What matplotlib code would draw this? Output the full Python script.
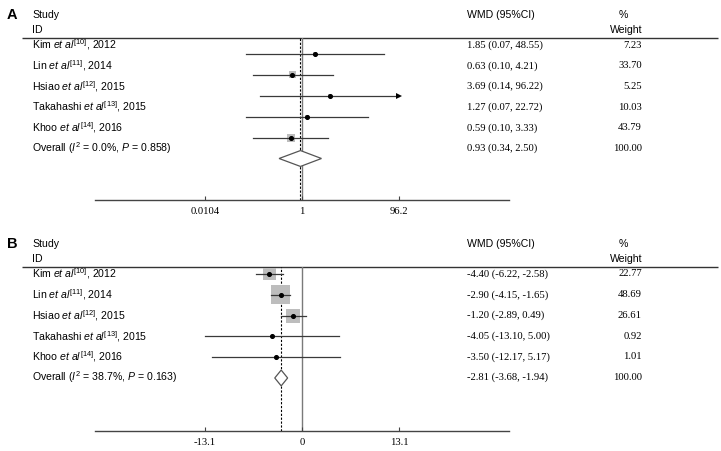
"""
Forest plots (two panels) of five studies with pooled estimate.
"""
# Libraries
import numpy as np
import matplotlib
matplotlib.use('Agg')
import matplotlib.pyplot as plt
from matplotlib.patches import Polygon

# Fonts
plt.rcParams['font.family'] = ['Liberation Sans', 'DejaVu Sans']
plt.rcParams['mathtext.fontset'] = 'custom'
plt.rcParams['mathtext.rm'] = 'Liberation Sans'
plt.rcParams['mathtext.it'] = 'Liberation Sans:italic'
plt.rcParams['mathtext.bf'] = 'Liberation Sans:bold'

# ----------------------------
# Data
# ----------------------------
authors = ['Kim', 'Lin', 'Hsiao', 'Takahashi', 'Khoo']
refs = ['10', '11', '12', '13', '14']
years = ['2012', '2014', '2015', '2015', '2016']

# Panel A (ratio scale)
a_est = [1.85, 0.63, 3.69, 1.27, 0.59]
a_lo = [0.07, 0.10, 0.14, 0.07, 0.10]
a_hi = [48.55, 4.21, 96.22, 22.72, 3.33]
a_weight = [7.23, 33.70, 5.25, 10.03, 43.79]
a_overall = [0.93, 0.34, 2.50]
a_i2, a_p = '0.0%', '0.858'
a_ticks = [0.0104, 1, 96.2]
a_ticklabels = ['0.0104', '1', '96.2']

# Panel B (difference scale)
b_est = [-4.40, -2.90, -1.20, -4.05, -3.50]
b_lo = [-6.22, -4.15, -2.89, -13.10, -12.17]
b_hi = [-2.58, -1.65, 0.49, 5.00, 5.17]
b_weight = [22.77, 48.69, 26.61, 0.92, 1.01]
b_overall = [-2.81, -3.68, -1.94]
b_i2, b_p = '38.7%', '0.163'
b_ticks = [-13.1, 0, 13.1]
b_ticklabels = ['-13.1', '0', '13.1']

# ----------------------------
# Figure layout (pixels)
# ----------------------------
W, H = 721, 451
fig = plt.figure(figsize=(W / 100, H / 100), dpi=100)

# Background axes in pixel units for text and header rules
bg = fig.add_axes([0, 0, 1, 1])
bg.set_xlim(0, W)
bg.set_ylim(H, 0)
bg.axis('off')

SANS = 7.6
NUM = 7.7
SERIF = ['Liberation Serif', 'DejaVu Serif']
line_col = '#3a3a3a'


def add_axes_px(x0, x1, y0, y1):
    """Axes from pixel box."""
    return fig.add_axes([x0 / W, 1 - y1 / H, (x1 - x0) / W, (y1 - y0) / H])


def draw_text(top, letter, est, lo, hi, weight, overall, i2, p):
    """Left and right columns of a panel."""
    rule = top + 23
    bg.text(12, top, letter, fontsize=10.5, fontweight='bold',
            va='center', ha='center')
    bg.text(32, top, 'Study', fontsize=SANS, va='center')
    bg.text(32, top + 15, 'ID', fontsize=SANS, va='center')
    bg.text(467, top, 'WMD (95%CI)', fontsize=SANS, va='center')
    bg.text(623, top, '%', fontsize=SANS, va='center', ha='center')
    bg.text(642, top + 15, 'Weight', fontsize=SANS, va='center', ha='right')
    bg.hlines(rule, 22, 718, color='#333333', lw=1.0)

    step = 20.7
    for i in range(len(est)):
        y = rule + 7 + i * step
        label = r'%s $\mathit{et\ al}^{[%s]}$, %s' % (authors[i], refs[i], years[i])
        bg.text(32, y, label, fontsize=SANS, va='center')
        bg.text(467, y, '%.2f (%.2f, %.2f)' % (est[i], lo[i], hi[i]),
                fontsize=NUM, family=SERIF, va='center')
        bg.text(642, y, '%.2f' % weight[i], fontsize=NUM, family=SERIF,
                va='center', ha='right')

    y = rule + 7 + len(est) * step
    label = r'Overall ($I^2$ = %s, $P$ = %s)' % (i2, p)
    bg.text(32, y, label, fontsize=SANS, va='center')
    bg.text(467, y, '%.2f (%.2f, %.2f)' % tuple(overall),
            fontsize=NUM, family=SERIF, va='center')
    bg.text(642, y, '%.2f' % 100, fontsize=NUM, family=SERIF,
            va='center', ha='right')


def draw_forest(ax, est, lo, hi, weight, overall, ticks, ticklabels,
                null, box_k):
    """Boxes, CI lines and diamond."""
    xmin, xmax = ticks[0], ticks[-1]
    rows = np.arange(len(est))

    # Null and overall lines
    ax.axvline(null, color='#7a7a7a', lw=1.0, zorder=1)
    ax.axvline(overall[0], color='k', lw=0.8, ls=(0, (2.0, 1.5)), zorder=1)

    # Weight boxes (side ~ sqrt(weight))
    sides = box_k * np.sqrt(weight) * 0.72
    ax.scatter(est, rows, s=sides ** 2, marker='s', color='#bdbdbd',
               edgecolors='none', zorder=2)

    # Confidence intervals (clipped with arrows)
    for i in rows:
        l, h = max(lo[i], xmin), min(hi[i], xmax)
        ax.plot([l, h], [i, i], color=line_col, lw=0.9, zorder=3)
        if hi[i] > xmax:
            ax.plot(h, i, marker='>', color='k', ms=4, mew=0, zorder=3)
        if lo[i] < xmin:
            ax.plot(l, i, marker='<', color='k', ms=4, mew=0, zorder=3)

    # Point estimates
    ax.scatter(est, rows, s=7, color='k', zorder=4)

    # Overall diamond
    yo = len(est)
    d = Polygon([[overall[1], yo], [overall[0], yo - 0.38],
                 [overall[2], yo], [overall[0], yo + 0.38]],
                closed=True, facecolor='white', edgecolor='#555555',
                lw=0.9, zorder=4)
    ax.add_patch(d)

    # Axis
    ax.set_xticks(ticks)
    ax.set_xticklabels(ticklabels, fontfamily=SERIF, fontsize=NUM)
    ax.minorticks_off()
    ax.tick_params(axis='x', direction='in', length=3, width=0.8,
                   color='#444444', pad=5)
    ax.set_yticks([])
    for s in ['top', 'left', 'right']:
        ax.spines[s].set_visible(False)
    ax.spines['bottom'].set_color('#444444')
    ax.spines['bottom'].set_linewidth(1.0)
    ax.patch.set_alpha(0)


# -----------------
# Panel A
# -----------------
draw_text(15, 'A', a_est, a_lo, a_hi, a_weight, a_overall, a_i2, a_p)
ax_a = add_axes_px(95, 509, 38, 200)
ax_a.set_xscale('log')
span = np.log10(a_ticks[-1]) * 207 / 97.0
ax_a.set_xlim(10 ** -span, 10 ** span)
ax_a.set_ylim(6.986, -0.766)
draw_forest(ax_a, a_est, a_lo, a_hi, a_weight, a_overall, a_ticks,
            a_ticklabels, 1, 1.2)

# -----------------
# Panel B
# -----------------
draw_text(244, 'B', b_est, b_lo, b_hi, b_weight, b_overall, b_i2, b_p)
ax_b = add_axes_px(95, 509, 267, 431)
span = b_ticks[-1] * 207 / 97.0
ax_b.set_xlim(-span, span)
ax_b.set_ylim(7.55, -0.337)
draw_forest(ax_b, b_est, b_lo, b_hi, b_weight, b_overall, b_ticks,
            b_ticklabels, 0, 2.72)

# Save
fig.savefig('out.png', dpi=100)
